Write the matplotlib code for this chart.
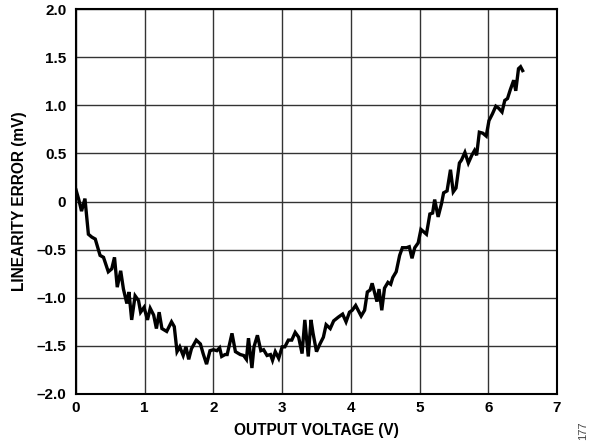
import matplotlib
matplotlib.use("Agg")
import matplotlib.pyplot as plt

# Output voltage (V) and measured linearity error (mV)
voltage = [
    0.00, 0.04, 0.08, 0.13, 0.18, 0.23, 0.28, 0.35, 0.40, 0.47, 0.52, 0.56,
    0.60, 0.65, 0.69, 0.74, 0.77, 0.81, 0.86, 0.91, 0.94, 0.99, 1.04, 1.08,
    1.13, 1.17, 1.21, 1.25, 1.32, 1.39, 1.43, 1.47, 1.51, 1.56, 1.60, 1.64,
    1.68, 1.75, 1.81, 1.85, 1.90, 1.95, 2.00, 2.05, 2.09, 2.12, 2.17, 2.20,
    2.27, 2.32, 2.39, 2.44, 2.48, 2.51, 2.56, 2.59, 2.64, 2.69, 2.73, 2.78,
    2.83, 2.86, 2.90, 2.95, 3.00, 3.04, 3.09, 3.14, 3.19, 3.24, 3.29, 3.33,
    3.38, 3.42, 3.45, 3.50, 3.55, 3.60, 3.64, 3.70, 3.75, 3.82, 3.88, 3.93,
    3.98, 4.02, 4.07, 4.15, 4.20, 4.24, 4.28, 4.31, 4.35, 4.38, 4.41, 4.45,
    4.49, 4.54, 4.58, 4.61, 4.66, 4.71, 4.75, 4.81, 4.85, 4.89, 4.93, 4.98,
    5.02, 5.10, 5.15, 5.19, 5.22, 5.24, 5.27, 5.32, 5.35, 5.40, 5.45, 5.49,
    5.53, 5.58, 5.61, 5.66, 5.71, 5.76, 5.80, 5.83, 5.87, 5.92, 5.97, 6.01,
    6.06, 6.11, 6.15, 6.20, 6.24, 6.28, 6.32, 6.37, 6.40, 6.44, 6.47, 6.50,
]
error_mv = [
    0.12, 0.02, -0.10, 0.03, -0.34, -0.37, -0.39, -0.56, -0.58, -0.73, -0.70, -0.58,
    -0.89, -0.72, -0.91, -1.06, -0.94, -1.23, -0.98, -1.03, -1.15, -1.10, -1.23, -1.11,
    -1.18, -1.32, -1.15, -1.32, -1.35, -1.25, -1.30, -1.56, -1.51, -1.60, -1.51, -1.64,
    -1.53, -1.44, -1.48, -1.58, -1.69, -1.55, -1.54, -1.55, -1.52, -1.61, -1.59, -1.59,
    -1.37, -1.56, -1.59, -1.60, -1.64, -1.42, -1.73, -1.51, -1.39, -1.55, -1.54, -1.60,
    -1.59, -1.65, -1.56, -1.63, -1.51, -1.51, -1.44, -1.44, -1.36, -1.41, -1.58, -1.23,
    -1.61, -1.23, -1.37, -1.56, -1.48, -1.41, -1.28, -1.32, -1.24, -1.20, -1.17, -1.25,
    -1.15, -1.13, -1.08, -1.19, -1.13, -0.94, -0.92, -0.85, -0.96, -1.04, -0.91, -1.13,
    -0.90, -0.84, -0.86, -0.79, -0.73, -0.56, -0.48, -0.48, -0.47, -0.59, -0.48, -0.43,
    -0.29, -0.34, -0.13, -0.12, 0.02, -0.05, -0.16, -0.02, 0.09, 0.11, 0.33, 0.10,
    0.14, 0.40, 0.43, 0.51, 0.40, 0.48, 0.53, 0.48, 0.72, 0.71, 0.68, 0.84,
    0.91, 0.99, 0.97, 0.93, 1.05, 1.07, 1.16, 1.26, 1.15, 1.38, 1.40, 1.36,
]

x_ticks = [0, 1, 2, 3, 4, 5, 6, 7]
y_ticks = [-2.0, -1.5, -1.0, -0.5, 0, 0.5, 1.0, 1.5, 2.0]
y_tick_labels = ["\u20132.0", "\u20131.5", "\u20131.0", "\u20130.5", "0",
                 "0.5", "1.0", "1.5", "2.0"]

plt.rcParams["font.family"] = ["Liberation Sans", "DejaVu Sans"]

fig = plt.figure(figsize=(6.0, 4.46), dpi=100)
ax = fig.add_axes([0.1267, 0.1166, 0.8016, 0.8632])

ax.plot(voltage, error_mv, color="black", linewidth=2.4,
        solid_joinstyle="miter", zorder=3)

ax.set_xlim(0, 7)
ax.set_ylim(-2.0, 2.0)
ax.set_xticks(x_ticks)
ax.set_yticks(y_ticks)
ax.set_xticklabels([str(t) for t in x_ticks], fontsize=11, fontweight="bold")
ax.set_yticklabels(y_tick_labels, fontsize=11, fontweight="bold")
ax.tick_params(axis="y", length=0, pad=7)
ax.tick_params(axis="x", length=0, pad=5)

ax.grid(True, color="#333333", linewidth=1.0)
ax.set_axisbelow(True)
for s in ax.spines.values():
    s.set_linewidth(1.5)
    s.set_color("black")

ax.set_xlabel("OUTPUT VOLTAGE (V)", fontsize=11.2, fontweight="bold", labelpad=6)
ax.set_ylabel("LINEARITY ERROR (mV)", fontsize=11.2, fontweight="bold")
ax.yaxis.set_label_coords(-0.102, 0.5)

fig.text(0.9725, 0.034, "177", rotation=90, fontsize=8, color="#444444",
         ha="center", va="center")

fig.savefig("out.png", dpi=100)
